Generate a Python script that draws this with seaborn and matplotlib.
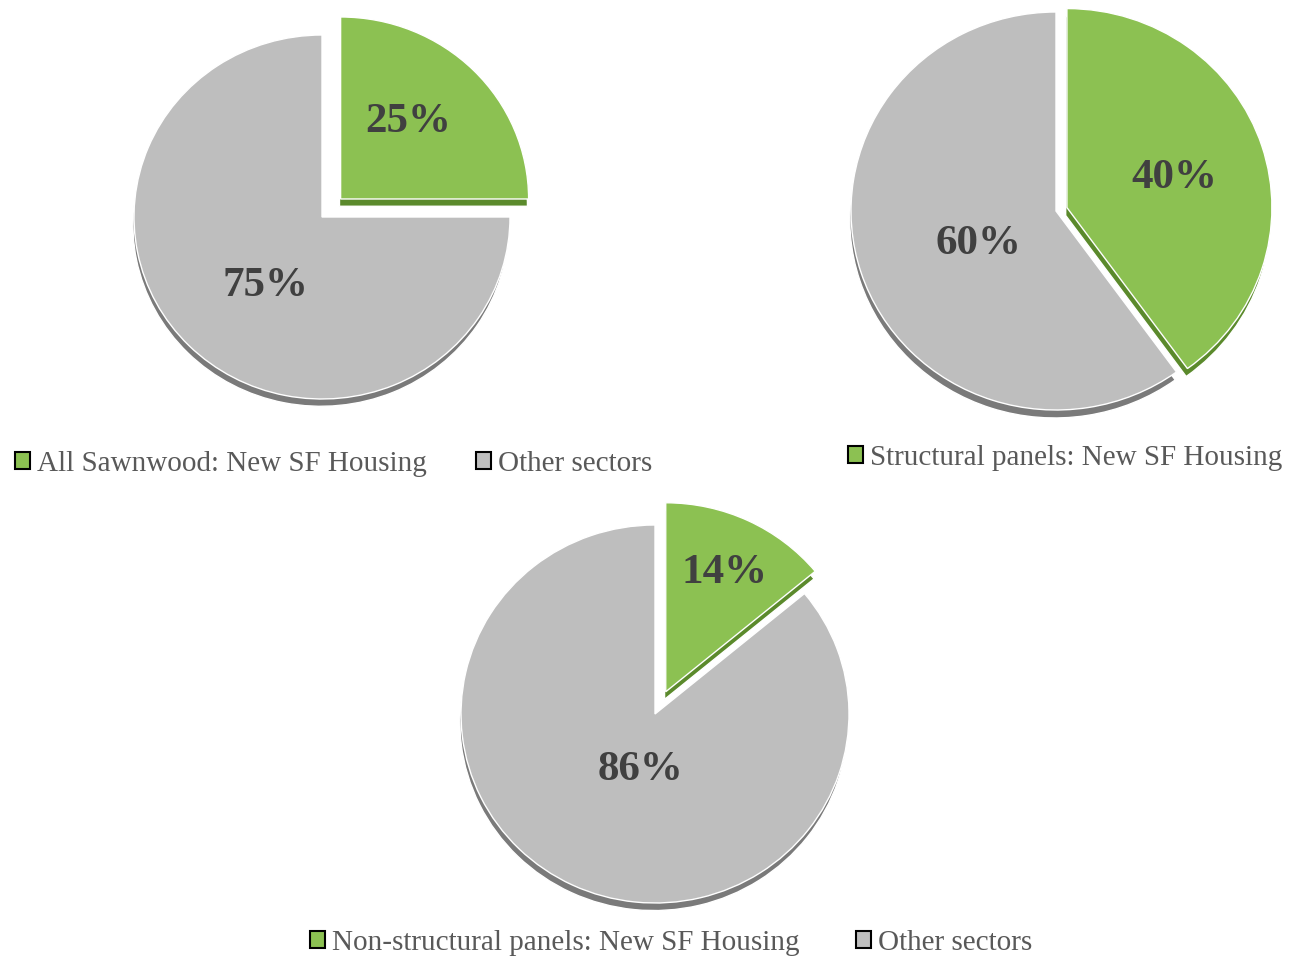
import matplotlib
matplotlib.use('Agg')
import matplotlib.pyplot as plt
import seaborn as sns
from matplotlib.patches import Patch

# shares
housing_labels = ['All Sawnwood: New SF Housing',
                  'Structural panels: New SF Housing',
                  'Non-structural panels: New SF Housing']
other_label = 'Other sectors'
housing_share = [25, 40, 14]
other_share = [75, 60, 86]
show_other_in_legend = [True, False, True]

sns.set_theme(style='white')
plt.rcParams['font.family'] = ['Liberation Serif', 'DejaVu Serif']

W, H = 1289, 957
green, gray = '#8cc152', '#bebebe'
green_dark, gray_dark = '#5b8a2c', '#7a7a7a'

# pie centre (px from top-left), radii px (slightly tilted -> ellipse), explode, label spots
layout = [
    dict(c=(322, 217), rx=188, ry=182, ex=0.14, lab=[(0.457, 0.52), (-0.30, -0.38)]),
    dict(c=(1056, 211), rx=205, ry=199, ex=0.056, lab=[(0.576, 0.166), (-0.376, -0.166)]),
    dict(c=(655, 714), rx=194, ry=189, ex=0.13, lab=[(0.36, 0.746), (-0.077, -0.296)]),
]
legend_pos = [(15, 464), (848, 458), (310, 943)]
legend_colspace = [1.7, 1.7, 1.95]

fig = plt.figure(figsize=(W / 100, H / 100), dpi=100)

for i in range(3):
    L = layout[i]
    cx, cy = L['c']
    rx, ry = L['rx'], L['ry']
    k = 1.3
    ax = fig.add_axes([(cx - k * rx) / W, (H - cy - k * ry) / H, 2 * k * rx / W, 2 * k * ry / H])
    vals = [housing_share[i], other_share[i]]
    # darker copy underneath for the 3-D rim
    ax.pie(vals, colors=[green_dark, gray_dark], startangle=90, counterclock=False,
           explode=[L['ex'], 0], center=(-0.006, -0.04), radius=1)
    wedges, texts, autotexts = ax.pie(
        vals, colors=[green, gray], startangle=90, counterclock=False,
        explode=[L['ex'], 0], radius=1,
        autopct=lambda p: f'{p:.0f}%',
        textprops=dict(fontsize=31, fontweight='bold', color='#404040'))
    for t, pos in zip(autotexts, L['lab']):
        t.set_position(pos)
        t.set_ha('center')
        t.set_va('center')
    ax.set_aspect('auto')
    ax.set_xlim(-k, k)
    ax.set_ylim(-k, k)
    ax.axis('off')
    for p in ax.patches:
        p.set_clip_on(False)

    handles = [Patch(facecolor=green, edgecolor='black', linewidth=1.5, label=housing_labels[i])]
    if show_other_in_legend[i]:
        handles.append(Patch(facecolor=gray, edgecolor='black', linewidth=1.5, label=other_label))
    lx, ly = legend_pos[i]
    fig.legend(handles=handles, loc='center left', bbox_to_anchor=(lx / W, 1 - ly / H),
               ncol=2, frameon=False, fontsize=21, handlelength=0.5, handleheight=0.5,
               handletextpad=0.25, columnspacing=legend_colspace[i], borderpad=0,
               borderaxespad=0, labelcolor='#595959')

fig.savefig('out.png', dpi=100, facecolor='white')
